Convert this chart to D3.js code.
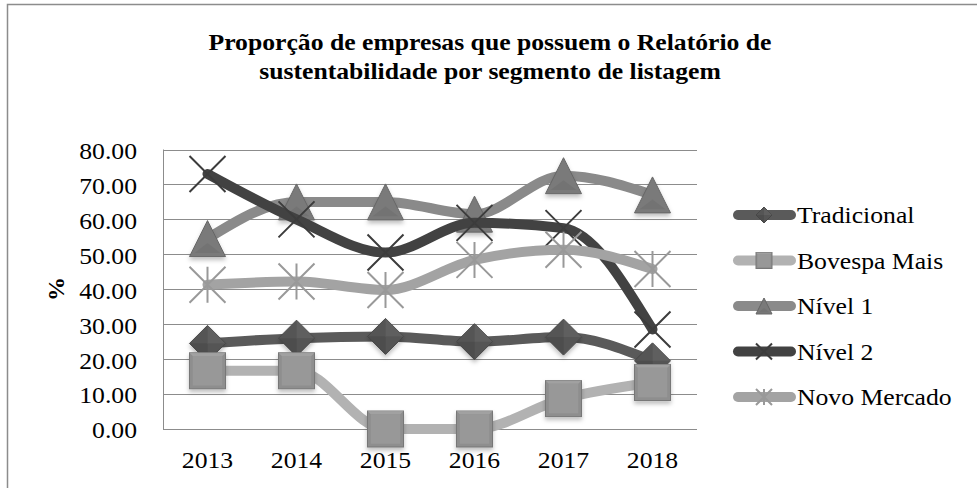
<!DOCTYPE html>
<html><head><meta charset="utf-8">
<script src="https://cdn.jsdelivr.net/npm/d3@7"></script>
<style>body{margin:0;background:#fff}svg{display:block}text{font-family:"Liberation Serif","Times New Roman",serif;fill:#000}</style>
</head><body><svg id="c" width="977" height="488"></svg>
<script>
const years = ["2013","2014","2015","2016","2017","2018"];
const seriesNames = ["Tradicional","Bovespa Mais","Nível 1","Nível 2","Novo Mercado"];
const tradicional = [24.5, 26.0, 26.5, 25.0, 26.3, 19.5];
const bovespaMais = [16.67, 16.67, 0, 0, 8.7, 13.3];
const nivel1 = [54.5, 65.0, 65.0, 61.5, 72.5, 67.0];
const nivel2 = [73.0, 60.0, 50.5, 59.0, 57.5, 28.5];
const novoMercado = [41.3, 42.2, 39.8, 48.4, 51.3, 45.8];
const yTicks = [0,10,20,30,40,50,60,70,80];
const title = ["Proporção de empresas que possuem o Relatório de","sustentabilidade por segmento de listagem"];
const yLabel = "%";

const values = [tradicional, bovespaMais, nivel1, nivel2, novoMercado];
const lineColors = ["#5a5a5a","#b2b2b2","#8a8a8a","#424242","#a3a3a3"];
const markerColors = ["#555","#8e8e8e","#7a7a7a","#3c3c3c","#999"];
const markerTypes = ["diamond","square","triangle","x","asterisk"];
const SX = 1.07;
const FS = "24px";

const svg = d3.select("#c");
const defs = svg.append("defs");
const f = defs.append("filter").attr("id","sh").attr("x","-30%").attr("y","-30%").attr("width","160%").attr("height","170%");
f.append("feDropShadow").attr("dx",0).attr("dy",3).attr("stdDeviation",2).attr("flood-color","#000").attr("flood-opacity",0.25);

// outer border (cut off right/bottom)
svg.append("path").attr("d","M7.5,488 V4.5 H977").attr("fill","none").attr("stroke","#8c8c8c").attr("stroke-width",1.5);

const x = d3.scaleBand().domain(years).range([163,697]);
const y = d3.scaleLinear().domain([0,80]).range([429,149.5]);

// gridlines
svg.append("g").selectAll("line").data(yTicks).join("line")
  .attr("x1",163).attr("x2",697).attr("y1",d=>Math.round(y(d))+0.5).attr("y2",d=>Math.round(y(d))+0.5)
  .attr("stroke","#8c8c8c").attr("stroke-width",1);
svg.append("line").attr("x1",163.5).attr("x2",163.5).attr("y1",y(80)).attr("y2",y(0)+0.5).attr("stroke","#8c8c8c");

// y axis labels
const yAxis = d3.axisLeft(y).tickValues(yTicks).tickFormat(d3.format(".2f")).tickSize(0);
const gy = svg.append("g").attr("transform","translate(163,0)").call(yAxis);
gy.select(".domain").remove();
gy.selectAll("text").style("font-family",'"Liberation Serif",serif').style("font-size",FS)
  .attr("x",0).attr("dy","0.33em").attr("transform",`translate(-26,1) scale(${SX},1)`);

const xAxis = d3.axisBottom(x).tickSize(0);
const gx = svg.append("g").attr("transform","translate(0,429)").call(xAxis);
gx.select(".domain").remove();
gx.selectAll("text").style("font-family",'"Liberation Serif",serif').style("font-size",FS)
  .attr("y",0).attr("dy",0).attr("transform",`translate(0,39) scale(${SX},1)`);

// title
svg.append("g").selectAll("text").data(title).join("text")
  .attr("transform",(d,i)=>`translate(490,${50+i*29}) scale(${SX},1)`).attr("text-anchor","middle")
  .style("font-weight","bold").style("font-size",FS).text(d=>d);

// y label
svg.append("text").attr("transform","translate(64,289) rotate(-90)").attr("text-anchor","middle")
  .style("font-weight","bold").style("font-size",FS).text(yLabel);

const cx = d => x(d) + x.bandwidth()/2;

function drawMarker(g, type, s, color) {
  const h = s/2;
  const lighter = d3.color(color).brighter(0.5).formatHex();
  const darker = d3.color(color).darker(0.5).formatHex();
  if (type==="diamond") {
    g.append("path").attr("d",`M0,${-h}L${h},0L0,${h}L${-h},0Z`).attr("fill",color).attr("stroke",darker).attr("stroke-width",1);
    g.append("path").attr("d",`M0,${-h}L${h},0L0,0Z`).attr("fill",lighter).attr("opacity",0.6);
    g.append("path").attr("d",`M0,${h}L${-h},0L0,0Z`).attr("fill",darker).attr("opacity",0.6);
  } else if (type==="square") {
    g.append("rect").attr("x",-h).attr("y",-h).attr("width",s).attr("height",s).attr("fill",color).attr("stroke",darker).attr("stroke-width",1);
    const i = h*0.82;
    g.append("path").attr("d",`M${-h},${-h}L${h},${-h}L${i},${-i}L${-i},${-i}Z`).attr("fill",lighter).attr("opacity",0.7);
    g.append("rect").attr("x",-i).attr("y",-i).attr("width",2*i).attr("height",2*i).attr("fill",d3.color(color).brighter(0.2).formatHex());
  } else if (type==="triangle") {
    g.append("path").attr("d",`M0,${-h}L${h},${h}L${-h},${h}Z`).attr("fill",color).attr("stroke",darker).attr("stroke-width",1);
    g.append("path").attr("d",`M0,${h*0.25}L${h*0.72},${h*0.8}L${-h*0.72},${h*0.8}Z`).attr("fill",darker).attr("opacity",0.35);
  } else if (type==="x") {
    g.append("path").attr("d",`M${-h},${-h}L${h},${h}M${h},${-h}L${-h},${h}`).attr("stroke",color).attr("stroke-width",2).attr("fill","none");
  } else if (type==="asterisk") {
    g.append("path").attr("d",`M${-h},${-h}L${h},${h}M${h},${-h}L${-h},${h}M0,${-h}L0,${h}`).attr("stroke",color).attr("stroke-width",2).attr("fill","none");
  }
}

// series
const line = d3.line().x((d,i)=>cx(years[i])).y(d=>y(d)).curve(d3.curveMonotoneX);
values.forEach((vals, si) => {
  const g = svg.append("g");
  g.append("path").attr("d",line(vals)).attr("fill","none").attr("stroke",lineColors[si])
    .attr("stroke-width",10).attr("stroke-linecap","round").attr("stroke-linejoin","round");
  vals.forEach((v,i) => {
    const m = g.append("g").attr("transform",`translate(${cx(years[i])},${y(v)})`)
      .attr("filter", markerTypes[si]==="x"||markerTypes[si]==="asterisk" ? null : "url(#sh)");
    drawMarker(m, markerTypes[si], 36, markerColors[si]);
  });
});

// legend
const lg = svg.append("g");
seriesNames.forEach((name, si) => {
  const ly = 215 + si*45.5;
  lg.append("line").attr("x1",738).attr("x2",791).attr("y1",ly).attr("y2",ly)
    .attr("stroke",lineColors[si]).attr("stroke-width",10).attr("stroke-linecap","round");
  const m = lg.append("g").attr("transform",`translate(764,${ly})`);
  drawMarker(m, markerTypes[si], 16, markerColors[si]);
  lg.append("text").attr("transform",`translate(797,${ly+8}) scale(${SX},1)`).style("font-size",FS).text(name);
});
</script></body></html>
